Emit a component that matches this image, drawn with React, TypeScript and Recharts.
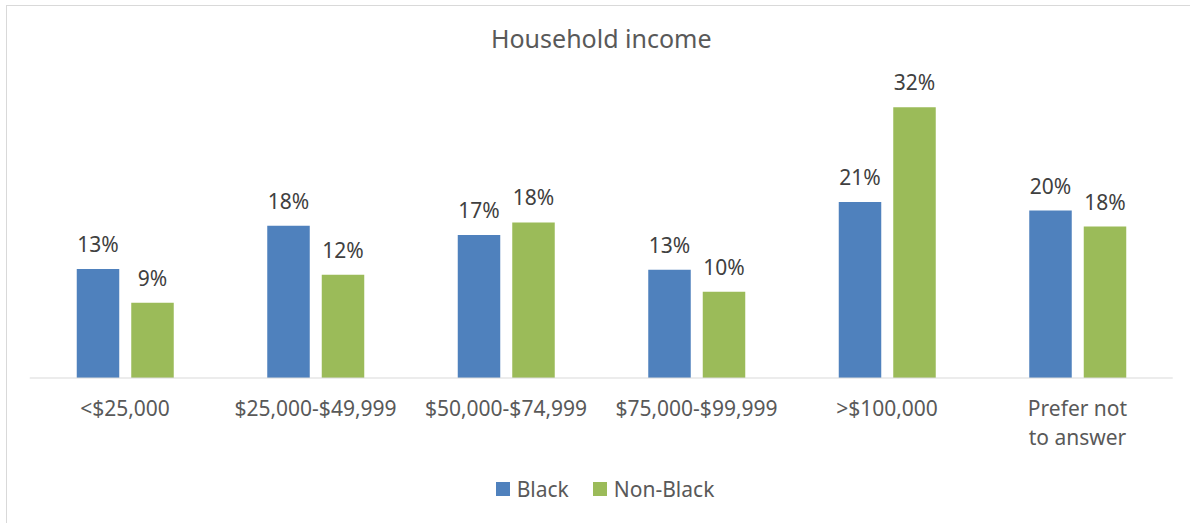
import React from 'react';
import { BarChart, Bar, XAxis, YAxis, LabelList, Legend } from 'recharts';

const categories = [
  '<$25,000',
  '$25,000-$49,999',
  '$50,000-$74,999',
  '$75,000-$99,999',
  '>$100,000',
  'Prefer not to answer',
];
const blackValues = [12.9, 18.0, 16.9, 12.8, 20.8, 19.8];
const nonBlackValues = [8.9, 12.2, 18.4, 10.2, 32.0, 17.9];
const seriesNames = ['Black', 'Non-Black'];
const seriesColors = ['#4F81BD', '#9BBB59'];
const chartTitle = 'Household income';

const data = categories.map((c, i) => ({
  category: c,
  black: blackValues[i],
  nonBlack: nonBlackValues[i],
}));

const FONT = '"Noto Sans", "Open Sans", sans-serif';
const W = 1190;
const H = 523;

// greedy word wrap by character budget
const wrapLabel = (label: string, maxChars: number) => {
  const words = String(label).split(' ');
  const lines: string[] = [];
  let cur = '';
  words.forEach((w) => {
    const next = cur ? `${cur} ${w}` : w;
    if (cur && next.length > maxChars) {
      lines.push(cur);
      cur = w;
    } else {
      cur = next;
    }
  });
  if (cur) lines.push(cur);
  return lines;
};

const CategoryTick = (props: any) => {
  const { x, y, payload } = props;
  const lines = wrapLabel(payload.value, 10);
  return (
    <text
      x={x}
      y={y}
      textAnchor="middle"
      fontSize={21}
      fill="#595959"
      fontFamily={FONT}
    >
      {lines.map((ln, i) => (
        <tspan key={i} x={x} dy={i === 0 ? 15 : 29}>
          {ln}
        </tspan>
      ))}
    </text>
  );
};

const renderLegend = (props: any) => {
  const payload = props.payload || [];
  return (
    <div
      style={{
        display: 'flex',
        justifyContent: 'center',
        alignItems: 'center',
        height: 28,
        fontFamily: FONT,
        fontSize: 21,
        color: '#595959',
        paddingLeft: 20,
      }}
    >
      {payload.map((entry: any, i: number) => (
        <div
          key={entry.value}
          style={{
            display: 'flex',
            alignItems: 'center',
            marginRight: i < payload.length - 1 ? 24 : 0,
          }}
        >
          <span
            style={{
              width: 14,
              height: 14,
              background: entry.color,
              marginRight: 7,
              display: 'inline-block',
            }}
          />
          <span style={{ lineHeight: '28px' }}>{entry.value}</span>
        </div>
      ))}
    </div>
  );
};

const pct = (v: any) => `${Math.round(Number(v))}%`;

export default function App() {
  return (
    <div
      style={{
        position: 'absolute',
        left: 0,
        top: 0,
        width: W,
        height: H,
        overflow: 'hidden',
        background: '#fff',
      }}
    >
      <div
        style={{
          position: 'absolute',
          left: 6,
          top: 5,
          width: W + 40,
          height: H + 40,
          border: '1px solid #D9D9D9',
          boxSizing: 'border-box',
        }}
      />
      <div
        style={{
          position: 'absolute',
          left: 29.75,
          width: 1143,
          top: 21,
          height: 34,
          lineHeight: '34px',
          textAlign: 'center',
          fontFamily: FONT,
          fontSize: 25,
          color: '#595959',
        }}
      >
        {chartTitle}
      </div>
      <div style={{ position: 'absolute', left: 0, top: 0 }}>
        <BarChart
          width={W}
          height={H}
          data={data}
          margin={{ top: 82, right: 17.25, left: 29.75, bottom: 0 }}
          barGap={12}
          barSize={42.5}
        >
          <XAxis
            dataKey="category"
            height={145}
            tickLine={false}
            tickSize={0}
            tickMargin={23}
            axisLine={{ stroke: '#D9D9D9', strokeWidth: 1 }}
            tick={<CategoryTick />}
            interval={0}
          />
          <YAxis hide domain={[0, 35]} />
          <Legend
            verticalAlign="middle"
            align="center"
            layout="horizontal"
            content={renderLegend}
            wrapperStyle={{ top: 475, left: 0, width: W }}
          />
          <Bar dataKey="black" name={seriesNames[0]} fill={seriesColors[0]} isAnimationActive={false}>
            <LabelList
              dataKey="black"
              position="top"
              offset={17}
              formatter={pct}
              fill="#404040"
              fontSize={21}
              fontFamily={FONT}
            />
          </Bar>
          <Bar dataKey="nonBlack" name={seriesNames[1]} fill={seriesColors[1]} isAnimationActive={false}>
            <LabelList
              dataKey="nonBlack"
              position="top"
              offset={17}
              formatter={pct}
              fill="#404040"
              fontSize={21}
              fontFamily={FONT}
            />
          </Bar>
        </BarChart>
      </div>
    </div>
  );
}
